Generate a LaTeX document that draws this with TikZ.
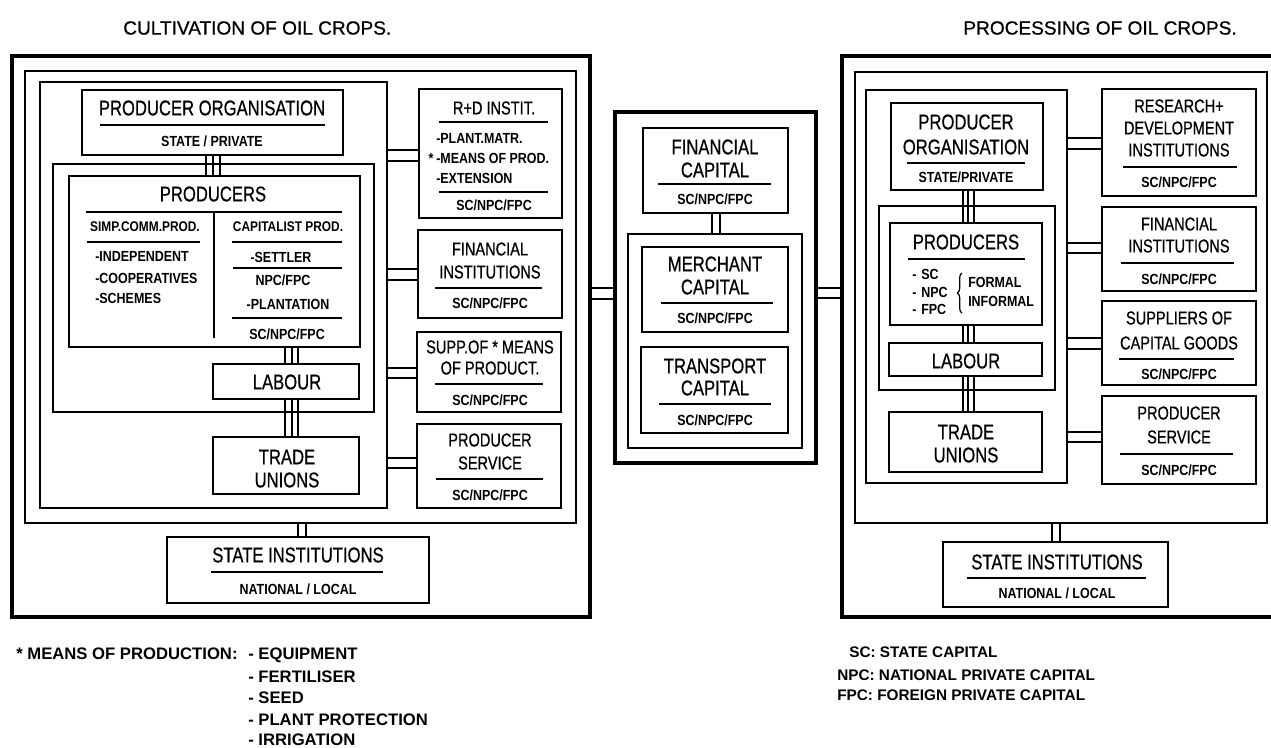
\documentclass[tikz,border=0pt]{standalone}
\usepackage{fontspec}
\setmainfont{Liberation Sans}
\newfontfamily\cnd{Liberation Sans}[FakeStretch=0.78,FakeBold=0.6]
\newfontfamily\cndb{Liberation Sans}[FakeStretch=0.85]
\newfontfamily\ttlf{Liberation Sans}[FakeBold=0.7]
\usetikzlibrary{fit,decorations.pathreplacing}
\tikzset{
  box/.style={draw, line width=1.5pt, inner sep=0pt},
  mbox/.style={draw, line width=1.9pt, inner sep=0pt},
  frame/.style={draw, line width=1.2pt, inner sep=0pt},
  thickbox/.style={draw, line width=3.2pt, inner sep=0pt},
  big/.style={inner sep=0pt, font=\cnd\fontsize{16}{18}\selectfont},
  col/.style={inner sep=0pt, font=\cnd\fontsize{14}{16}\selectfont},
  sm/.style={inner sep=0pt, font=\cndb\bfseries\fontsize{11}{13}\selectfont},
  smh/.style={inner sep=0pt, font=\cndb\bfseries\fontsize{10.5}{12}\selectfont},
  lst/.style={inner sep=0pt, anchor=west, font=\cndb\bfseries\fontsize{11}{13}\selectfont},
  rule/.style={line width=1.2pt},
  conn/.style={line width=1pt},
  leg/.style={inner sep=0pt, anchor=base west, font=\bfseries\fontsize{12.5}{14}\selectfont},
  legr/.style={inner sep=0pt, anchor=base west, font=\bfseries\fontsize{11.5}{13}\selectfont},
  ttl/.style={inner sep=0pt, font=\ttlf\fontsize{14.3}{16}\selectfont},
}
\begin{document}
\begin{tikzpicture}[x=0.75pt,y=-0.75pt]
\useasboundingbox (0,0) rectangle (1271,747);

% ---------------- titles
\node[ttl, anchor=west] (ttlL) at (123,28) {CULTIVATION OF OIL CROPS.};
\node[ttl, anchor=east] (ttlR) at (1237,28) {PROCESSING OF OIL CROPS.};

% ================= LEFT PANEL
\node[thickbox, fit={(12,56) (590,617)}] (lo) {};
\node[frame, fit={(25,71) (576,523)}] (lb2) {};
\node[frame, fit={(40,82) (387,508)}] (lb3) {};
\node[frame, fit={(53,164) (374,412)}] (lb4) {};

% producer organisation
\node[box, fit={(82,90) (343,155)}] (lpo) {};
\node[big] (lpo1) at (212,108) {PRODUCER ORGANISATION};
\draw[rule] (100,125) -- (325,125);
\node[sm] (lpo2) at (212,141) {STATE / PRIVATE};

% producers
\node[box, fit={(69,176) (360,347)}] (lpr) {};
\node[big] (lpr1) at (213,194) {PRODUCERS};
\draw[rule] (86,212) -- (342,212);
\draw[rule] (214,212) -- (214,338);
\node[smh] (lpr2) at (145,227) {SIMP.COMM.PROD.};
\draw[rule] (87,242) -- (200,242);
\node[lst] (lpr3) at (95,256) {-INDEPENDENT};
\node[lst] (lpr4) at (95,278) {-COOPERATIVES};
\node[lst] (lpr5) at (95,298) {-SCHEMES};
\node[smh] (lpr6) at (288,227) {CAPITALIST PROD.};
\draw[rule] (232,242) -- (342,242);
\node[sm] (lpr7) at (281,257) {-SETTLER};
\draw[rule] (233,268) -- (342,268);
\node[sm] (lpr8) at (283,280) {NPC/FPC};
\node[sm] (lpr9) at (288,304) {-PLANTATION};
\draw[rule] (232,318) -- (342,318);
\node[sm] (lpr10) at (287,334) {SC/NPC/FPC};

% labour, trade unions
\node[box, fit={(213,364) (359,399)}] (llb) {};
\node[big] (llb1) at (287,382) {LABOUR};
\node[box, fit={(213,437) (359,494)}] (ltu) {};
\node[big] (ltu1) at (287,457) {TRADE};
\node[big] (ltu2) at (287,480) {UNIONS};

% state institutions
\node[box, fit={(167,537) (429,603)}] (lst) {};
\node[big] (lst1) at (298,555) {STATE INSTITUTIONS};
\draw[rule] (211,572) -- (383,572);
\node[sm] (lst2) at (298,589) {NATIONAL / LOCAL};

% right column (left panel)
\node[box, fit={(419,89) (562,218)}] (lrd) {};
\node[col] (lrd1) at (494,108) {R+D INSTIT.};
\draw[rule] (439,122) -- (548,122);
\node[lst] (lrd2) at (436,138) {-PLANT.MATR.};
\node[sm] (lrd3) at (431,158) {*};
\node[lst] (lrd4) at (436,158) {-MEANS OF PROD.};
\node[lst] (lrd5) at (436,178) {-EXTENSION};
\draw[rule] (439,192) -- (548,192);
\node[sm] (lrd6) at (494,205) {SC/NPC/FPC};

\node[box, fit={(418,230) (562,318)}] (lfi) {};
\node[col] (lfi1) at (490,249) {FINANCIAL};
\node[col] (lfi2) at (490,272) {INSTITUTIONS};
\draw[rule] (435,288) -- (542,288);
\node[sm] (lfi3) at (490,303) {SC/NPC/FPC};

\node[box, fit={(417,332) (561,412)}] (lsu) {};
\node[col] (lsu1) at (490,347) {SUPP.OF * MEANS};
\node[col] (lsu2) at (490,368) {OF PRODUCT.};
\draw[rule] (435,384) -- (543,384);
\node[sm] (lsu3) at (490,400) {SC/NPC/FPC};

\node[box, fit={(417,424) (561,508)}] (lps) {};
\node[col] (lps1) at (490,440) {PRODUCER};
\node[col] (lps2) at (490,463) {SERVICE};
\draw[rule] (436,479) -- (543,479);
\node[sm] (lps3) at (490,495) {SC/NPC/FPC};

% connectors (left panel)
\foreach \x in {206,213,220} \draw[conn] (\x,0 |- lpo.south) -- (\x,0 |- lpr.north);
\foreach \x in {285,292,298} \draw[conn] (\x,0 |- lpr.south) -- (\x,0 |- llb.north);
\foreach \x in {285,292,298} \draw[conn] (\x,0 |- llb.south) -- (\x,0 |- ltu.north);
\foreach \x in {298,306} \draw[conn] (\x,0 |- lb2.south) -- (\x,0 |- lst.north);
\foreach \y in {150,161} \draw[conn] (lb3.east |- 0,\y) -- (lrd.west |- 0,\y);
\foreach \y in {269,280} \draw[conn] (lb3.east |- 0,\y) -- (lfi.west |- 0,\y);
\foreach \y in {368,378} \draw[conn] (lb3.east |- 0,\y) -- (lsu.west |- 0,\y);
\foreach \y in {458,468} \draw[conn] (lb3.east |- 0,\y) -- (lps.west |- 0,\y);

% ================= MIDDLE PANEL
\node[thickbox, fit={(615,112) (816,463)}] (mo) {};
\node[mbox, fit={(643,128) (788,213)}] (mfc) {};
\node[big] (mfc1) at (715,147) {FINANCIAL};
\node[big] (mfc2) at (715,170) {CAPITAL};
\draw[rule] (658,184) -- (771,184);
\node[sm] (mfc3) at (715,199) {SC/NPC/FPC};
\node[frame, fit={(628,234) (802,448)}] (mi) {};
\node[mbox, fit={(642,247) (788,332)}] (mmc) {};
\node[big] (mmc1) at (715,264) {MERCHANT};
\node[big] (mmc2) at (715,287) {CAPITAL};
\draw[rule] (661,303) -- (773,303);
\node[sm] (mmc3) at (715,318) {SC/NPC/FPC};
\node[mbox, fit={(641,347) (788,433)}] (mtc) {};
\node[big] (mtc1) at (715,366) {TRANSPORT};
\node[big] (mtc2) at (715,388) {CAPITAL};
\draw[rule] (659,404) -- (771,404);
\node[sm] (mtc3) at (715,420) {SC/NPC/FPC};
\foreach \x in {712,720} \draw[conn] (\x,0 |- mfc.south) -- (\x,0 |- mi.north);

% ================= RIGHT PANEL
\node[thickbox, fit={(842,56) (1276,617)}] (ro) {};
\node[frame, fit={(855,72) (1267,523)}] (rb2) {};
\node[frame, fit={(866,90) (1067,483)}] (rb3) {};
\node[frame, fit={(879,206) (1055,390)}] (rb4) {};

\node[box, fit={(891,103) (1043,190)}] (rpo) {};
\node[big] (rpo1) at (966,122) {PRODUCER};
\node[big] (rpo2) at (966,147) {ORGANISATION};
\draw[rule] (907,163) -- (1025,163);
\node[sm] (rpo3) at (966,177) {STATE/PRIVATE};

\node[box, fit={(890,223) (1042,325)}] (rpr) {};
\node[big] (rpr1) at (966,242) {PRODUCERS};
\draw[rule] (908,259) -- (1025,259);
\node[lst] (rpr2) at (912,274) {-\,\,SC};
\node[lst] (rpr3) at (912,292) {-\,\,NPC};
\node[lst] (rpr4) at (912,309) {-\,\,FPC};
\draw[line width=0.9pt, decorate, decoration={brace, amplitude=3.5pt}] (962,313) -- (962,273);
\node[lst] (rpr5) at (968,282) {FORMAL};
\node[lst] (rpr6) at (968,301) {INFORMAL};

\node[box, fit={(889,343) (1042,376)}] (rlb) {};
\node[big] (rlb1) at (966,361) {LABOUR};
\node[box, fit={(889,412) (1042,472)}] (rtu) {};
\node[big] (rtu1) at (966,432) {TRADE};
\node[big] (rtu2) at (966,455) {UNIONS};

\node[box, fit={(943,542) (1168,607)}] (rst) {};
\node[big] (rst1) at (1057,562) {STATE INSTITUTIONS};
\draw[rule] (967,578) -- (1146,578);
\node[sm] (rst2) at (1057,593) {NATIONAL / LOCAL};

\node[box, fit={(1102,89) (1256,196)}] (rrd) {};
\node[col] (rrd1) at (1179,106) {RESEARCH+};
\node[col] (rrd2) at (1179,128) {DEVELOPMENT};
\node[col] (rrd3) at (1179,150) {INSTITUTIONS};
\draw[rule] (1123,167) -- (1237,167);
\node[sm] (rrd4) at (1179,182) {SC/NPC/FPC};

\node[box, fit={(1102,207) (1256,291)}] (rfi) {};
\node[col] (rfi1) at (1179,224) {FINANCIAL};
\node[col] (rfi2) at (1179,246) {INSTITUTIONS};
\draw[rule] (1121,263) -- (1234,263);
\node[sm] (rfi3) at (1179,279) {SC/NPC/FPC};

\node[box, fit={(1102,301) (1256,385)}] (rsu) {};
\node[col] (rsu1) at (1179,318) {SUPPLIERS OF};
\node[col] (rsu2) at (1179,343) {CAPITAL GOODS};
\draw[rule] (1119,359) -- (1234,359);
\node[sm] (rsu3) at (1179,374) {SC/NPC/FPC};

\node[box, fit={(1102,396) (1256,484)}] (rps) {};
\node[col] (rps1) at (1179,413) {PRODUCER};
\node[col] (rps2) at (1179,437) {SERVICE};
\draw[rule] (1120,454) -- (1233,454);
\node[sm] (rps3) at (1179,470) {SC/NPC/FPC};

% connectors (right panel)
\foreach \x in {963,968,974} \draw[conn] (\x,0 |- rpo.south) -- (\x,0 |- rpr.north);
\foreach \x in {963,968,974} \draw[conn] (\x,0 |- rpr.south) -- (\x,0 |- rlb.north);
\foreach \x in {963,968,974} \draw[conn] (\x,0 |- rlb.south) -- (\x,0 |- rtu.north);
\foreach \x in {1052,1060} \draw[conn] (\x,0 |- rb2.south) -- (\x,0 |- rst.north);
\foreach \y in {138,149} \draw[conn] (rb3.east |- 0,\y) -- (rrd.west |- 0,\y);
\foreach \y in {243,253} \draw[conn] (rb3.east |- 0,\y) -- (rfi.west |- 0,\y);
\foreach \y in {338,349} \draw[conn] (rb3.east |- 0,\y) -- (rsu.west |- 0,\y);
\foreach \y in {432,442} \draw[conn] (rb3.east |- 0,\y) -- (rps.west |- 0,\y);

% panel links
\foreach \y in {288,299} \draw[conn] (lo.east |- 0,\y) -- (mo.west |- 0,\y);
\foreach \y in {288,298} \draw[conn] (mo.east |- 0,\y) -- (ro.west |- 0,\y);

% ================= LEGENDS
\node[leg] (lg1) at (16,659) {* MEANS OF PRODUCTION:};
\node[leg] (lg2) at (248,659) {- EQUIPMENT};
\node[leg] (lg3) at (248,682) {- FERTILISER};
\node[leg] (lg4) at (248,703) {- SEED};
\node[leg] (lg5) at (248,725) {- PLANT PROTECTION};
\node[leg] (lg6) at (248,745) {- IRRIGATION};
\node[legr] (rg1) at (849,657) {SC: STATE CAPITAL};
\node[legr] (rg2) at (837,680) {NPC: NATIONAL PRIVATE CAPITAL};
\node[legr] (rg3) at (837,700) {FPC: FOREIGN PRIVATE CAPITAL};
\end{tikzpicture}
\end{document}
